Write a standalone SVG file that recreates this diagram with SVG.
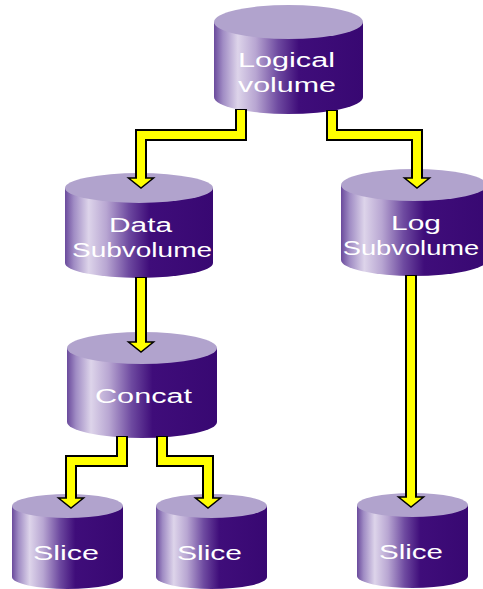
<svg xmlns="http://www.w3.org/2000/svg" width="483" height="589" viewBox="0 0 483 589">
<defs>
<linearGradient id="body" x1="0" y1="0" x2="1" y2="0">
<stop offset="0" stop-color="#6a4a9c"/>
<stop offset="0.06" stop-color="#a08cc4"/>
<stop offset="0.16" stop-color="#ddd4ea"/>
<stop offset="0.28" stop-color="#b8a6d2"/>
<stop offset="0.43" stop-color="#6e4aa0"/>
<stop offset="0.57" stop-color="#3f0d7a"/>
<stop offset="1" stop-color="#380872"/>
</linearGradient>
</defs>
<style>
.body{fill:url(#body);}
.top{fill:#b1a3cd;}
.lbl{fill:#ffffff;font-family:"Liberation Sans",Arial,sans-serif;font-size:21px;text-anchor:middle;}
.out{fill:none;stroke:#000;stroke-width:12;stroke-linejoin:miter;}
.in{fill:none;stroke:#ffff00;stroke-width:8;stroke-linejoin:miter;}
.head{fill:#ffff00;stroke:#000;stroke-width:1.5;stroke-linejoin:miter;}
</style>
<g id="node-logical">
<path class="body" d="M214,22 L214,97 A74.5,17 0 0 0 363,97 L363,22 Z"/>
<ellipse class="top" cx="288.5" cy="22" rx="74.5" ry="17"/>
<text class="lbl" transform="translate(286.5,67) scale(1.42,1)" textLength="68.3" lengthAdjust="spacingAndGlyphs">Logical</text>
<text class="lbl" transform="translate(287,92) scale(1.42,1)" textLength="69" lengthAdjust="spacingAndGlyphs">volume</text>
</g>
<g id="node-data">
<path class="body" d="M65,188 L65,263 A74,15 0 0 0 213,263 L213,188 Z"/>
<ellipse class="top" cx="139" cy="188" rx="74" ry="15"/>
<text class="lbl" transform="translate(140.5,232) scale(1.42,1)" textLength="44.4" lengthAdjust="spacingAndGlyphs">Data</text>
<text class="lbl" transform="translate(142,257) scale(1.42,1)" textLength="98.6" lengthAdjust="spacingAndGlyphs">Subvolume</text>
</g>
<g id="node-log">
<path class="body" d="M341,185 L341,260 A73,16 0 0 0 487,260 L487,185 Z"/>
<ellipse class="top" cx="414" cy="185" rx="73" ry="16"/>
<text class="lbl" transform="translate(416,230) scale(1.42,1)" textLength="35.2" lengthAdjust="spacingAndGlyphs">Log</text>
<text class="lbl" transform="translate(411,255) scale(1.3,1)">Subvolume</text>
</g>
<g id="node-concat">
<path class="body" d="M67,348 L67,422 A75,16 0 0 0 217,422 L217,348 Z"/>
<ellipse class="top" cx="142" cy="348" rx="75" ry="16"/>
<text class="lbl" transform="translate(143.5,403) scale(1.42,1)" textLength="68.3" lengthAdjust="spacingAndGlyphs">Concat</text>
</g>
<g id="node-slice1">
<path class="body" d="M12,506 L12,577 A55.5,12 0 0 0 123,577 L123,506 Z"/>
<ellipse class="top" cx="67.5" cy="506" rx="55.5" ry="12"/>
<text class="lbl" transform="translate(66,560) scale(1.42,1)" textLength="46.5" lengthAdjust="spacingAndGlyphs">Slice</text>
</g>
<g id="node-slice2">
<path class="body" d="M156,506 L156,577 A55.5,12 0 0 0 267,577 L267,506 Z"/>
<ellipse class="top" cx="211.5" cy="506" rx="55.5" ry="12"/>
<text class="lbl" transform="translate(209.5,560) scale(1.42,1)" textLength="45.8" lengthAdjust="spacingAndGlyphs">Slice</text>
</g>
<g id="node-slice3">
<path class="body" d="M357,505 L357,576 A55.5,12 0 0 0 468,576 L468,505 Z"/>
<ellipse class="top" cx="412.5" cy="505" rx="55.5" ry="12"/>
<text class="lbl" transform="translate(411,559) scale(1.42,1)" textLength="45.1" lengthAdjust="spacingAndGlyphs">Slice</text>
</g>
<g id="connectors">
<g id="c-logical-data">
<polyline class="out" points="241,109 241,135 141,135 141,179"/>
<polygon class="head" points="128.5,178 153.5,178 141,188"/>
<polyline class="in" points="241,110 241,135 141,135 141,179.5"/>
</g>
<g id="c-logical-log">
<polyline class="out" points="332,110 332,135 417,135 417,179"/>
<polygon class="head" points="404.5,178 429.5,178 417,188"/>
<polyline class="in" points="332,111 332,135 417,135 417,179.5"/>
</g>
<g id="c-data-concat">
<polyline class="out" points="141,277 141,343"/>
<polygon class="head" points="128.5,342 153.5,342 141,352"/>
<polyline class="in" points="141,278 141,343.5"/>
</g>
<g id="c-log-slice3">
<polyline class="out" points="411,275 411,498"/>
<polygon class="head" points="398.5,497 423.5,497 411,507"/>
<polyline class="in" points="411,276 411,498.5"/>
</g>
<g id="c-concat-slice1">
<polyline class="out" points="122,436 122,461 71,461 71,499"/>
<polygon class="head" points="58.5,498 83.5,498 71,508"/>
<polyline class="in" points="122,437 122,461 71,461 71,499.5"/>
</g>
<g id="c-concat-slice2">
<polyline class="out" points="162,436 162,461 208,461 208,499"/>
<polygon class="head" points="195.5,498 220.5,498 208,508"/>
<polyline class="in" points="162,437 162,461 208,461 208,499.5"/>
</g>
</g>
</svg>
